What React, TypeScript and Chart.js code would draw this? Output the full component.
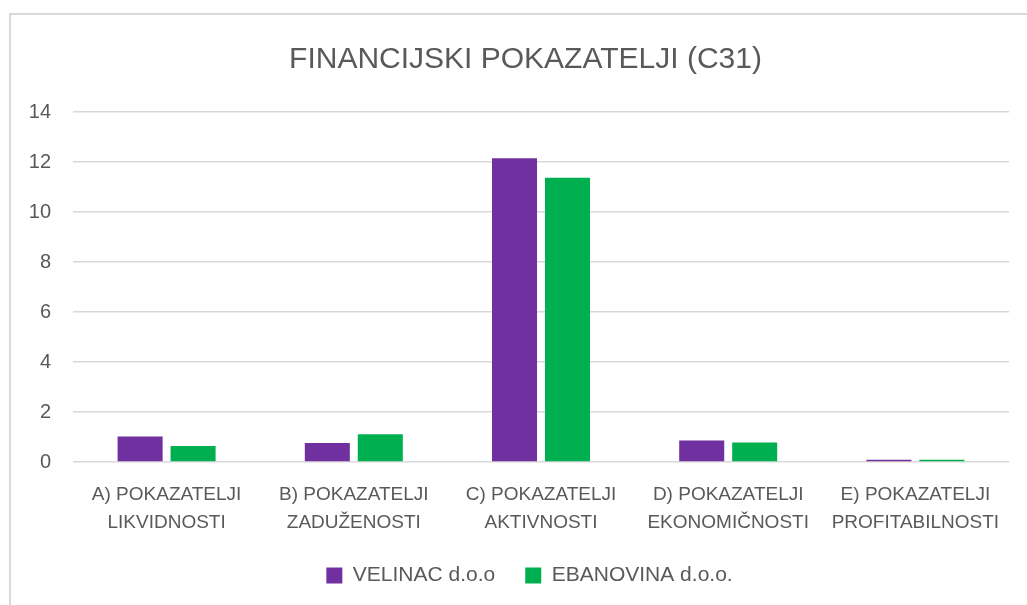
import React, { useEffect, useRef } from "react";
import { Chart, registerables } from "chart.js";

Chart.register(...registerables);

const chartTitle = "FINANCIJSKI POKAZATELJI (C31)";
const categories: string[][] = [
  ["A) POKAZATELJI", "LIKVIDNOSTI"],
  ["B) POKAZATELJI", "ZADUŽENOSTI"],
  ["C) POKAZATELJI", "AKTIVNOSTI"],
  ["D) POKAZATELJI", "EKONOMIČNOSTI"],
  ["E) POKAZATELJI", "PROFITABILNOSTI"],
];
const seriesNames = ["VELINAC d.o.o", "EBANOVINA d.o.o."];
const velinacValues = [1.02, 0.76, 12.15, 0.86, 0.09];
const ebanovinaValues = [0.64, 1.11, 11.37, 0.78, 0.09];
const yMin = 0;
const yMax = 14;
const yStep = 2;

const PURPLE = "#7030A0";
const GREEN = "#00B050";
const TEXT = "#595959";
const GRID = "#d9d9d9";
const FONT = "'Liberation Sans', Arial, sans-serif";

// shifts the title and legend boxes so they centre on the full chart object
const shiftBoxes = {
  id: "shiftBoxes",
  afterLayout(chart: any) {
    const t = chart.titleBlock;
    if (t) {
      t.left += 32;
    }
    const l = chart.legend;
    if (l) {
      l.left += 40;
    }
  },
};

export default function App() {
  const ref = useRef<HTMLCanvasElement | null>(null);

  useEffect(() => {
    if (!ref.current) return;
    const chart = new Chart(ref.current, {
      type: "bar",
      data: {
        labels: categories,
        datasets: [
          {
            label: seriesNames[0],
            data: velinacValues,
            backgroundColor: PURPLE,
            borderWidth: 0,
          },
          {
            label: seriesNames[1],
            data: ebanovinaValues,
            backgroundColor: GREEN,
            borderWidth: 0,
          },
        ],
      },
      plugins: [shiftBoxes],
      options: {
        animation: false,
        responsive: false,
        maintainAspectRatio: false,
        devicePixelRatio: 1,
        datasets: {
          bar: { categoryPercentage: 0.566, barPercentage: 0.85 },
        },
        layout: { padding: { left: 0, right: 51, top: 0, bottom: 9 } },
        plugins: {
          title: {
            display: true,
            text: chartTitle,
            color: TEXT,
            font: { family: FONT, size: 30, weight: "normal", lineHeight: 1.2 },
            padding: { top: 42, bottom: 34 },
          },
          legend: {
            position: "bottom",
            labels: {
              color: TEXT,
              font: { family: FONT, size: 21 },
              boxWidth: 16,
              boxHeight: 16,
              padding: 30,
            },
          },
          tooltip: { enabled: false },
        },
        scales: {
          x: {
            grid: { display: false, drawTicks: false },
            border: { display: false },
            ticks: {
              color: TEXT,
              font: { family: FONT, size: 19, lineHeight: 1.47 },
              padding: 19,
              maxRotation: 0,
              autoSkip: false,
            },
            afterFit: (scale: any) => {
              scale.height = 73;
            },
          },
          y: {
            min: yMin,
            max: yMax,
            grid: { color: GRID, lineWidth: 1.5, drawTicks: false },
            border: { display: false },
            ticks: {
              stepSize: yStep,
              color: TEXT,
              font: { family: FONT, size: 20 },
              padding: 22,
            },
            afterFit: (scale: any) => {
              scale.width = 63;
            },
          },
        },
      },
    });
    return () => chart.destroy();
  }, []);

  return (
    <div
      style={{
        position: "absolute",
        left: 0,
        top: 0,
        width: 1027,
        height: 605,
        overflow: "hidden",
        background: "#fff",
      }}
    >
      <div
        style={{
          position: "absolute",
          left: 9,
          top: 13,
          width: 1100,
          height: 700,
          borderTop: "2px solid #d9d9d9",
          borderLeft: "2px solid #d9d9d9",
        }}
      />
      <canvas
        ref={ref}
        width={1050}
        height={605}
        style={{ position: "absolute", left: 10, top: 0, width: 1050, height: 605 }}
      />
    </div>
  );
}
